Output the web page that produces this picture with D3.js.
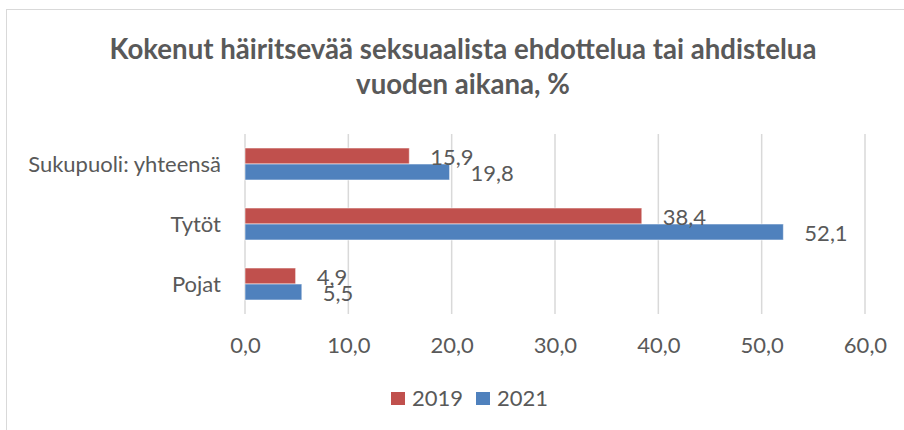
<!DOCTYPE html>
<html>
<head>
<meta charset="utf-8">
<script src="https://cdn.jsdelivr.net/npm/d3@7"></script>
<style>
  html, body { margin: 0; padding: 0; background: #fff; }
  svg { display: block; }
  text { font-family: Lato, "Open Sans", sans-serif; fill: #595959; }
</style>
</head>
<body>
<svg id="chart" width="904" height="430"></svg>
<script>
const categories = ["Sukupuoli: yhteensä", "Tytöt", "Pojat"];
const seriesNames = ["2019", "2021"];
const values2019 = [15.9, 38.4, 4.9];
const values2021 = [19.8, 52.1, 5.5];
const xTicks = [0, 10, 20, 30, 40, 50, 60];
const titleLines = ["Kokenut häiritsevää seksuaalista ehdottelua tai ahdistelua", "vuoden aikana, %"];
const colors = ["#C0504D", "#4F81BD"];

const seriesValues = [values2019, values2021];
const svg = d3.select("#chart");
const fs = 22;

// chart frame
svg.append("rect")
  .attr("x", 6.5).attr("y", 9.5)
  .attr("width", 1000).attr("height", 1000)
  .attr("fill", "none").attr("stroke", "#d9d9d9").attr("stroke-width", 1);

// title
const title = svg.append("text")
  .attr("text-anchor", "middle")
  .attr("font-weight", "bold")
  .attr("font-size", 27.6);
titleLines.forEach((t, i) => {
  title.append("tspan").attr("x", 463).attr("y", 59 + i * 35).text(t);
});

const x = d3.scaleLinear().domain([0, 60]).range([245, 865]);
const y0 = d3.scaleBand().domain(categories).range([134, 314])
  .paddingInner(0.4667).paddingOuter(0.2333);
const y1 = d3.scaleBand().domain(seriesNames).range([0, y0.bandwidth()]);

// gridlines
svg.append("g")
  .selectAll("line")
  .data(xTicks)
  .join("line")
  .attr("x1", d => x(d)).attr("x2", d => x(d))
  .attr("y1", 134).attr("y2", 314)
  .attr("stroke", "#d9d9d9").attr("stroke-width", 1.5);

// x axis labels
const xAxis = d3.axisBottom(x).tickValues(xTicks).tickSize(0).tickPadding(0)
  .tickFormat(d => d3.format(".1f")(d).replace(".", ","));
const gx = svg.append("g").attr("transform", "translate(0,337)").call(xAxis);
gx.select(".domain").remove();
gx.selectAll("text").attr("font-size", fs).attr("fill", "#595959")
  .attr("font-family", "Lato, 'Open Sans', sans-serif").attr("dy", "0.71em");

// y axis labels
const yAxis = d3.axisLeft(y0).tickSize(0).tickPadding(24);
const gy = svg.append("g").attr("transform", `translate(${x(0)},0)`).call(yAxis);
gy.select(".domain").remove();
gy.selectAll("text").attr("font-size", fs).attr("fill", "#595959")
  .attr("font-family", "Lato, 'Open Sans', sans-serif").attr("dy", "0.35em");

// bars
const rows = [];
categories.forEach((c, i) => {
  seriesNames.forEach((s, j) => {
    rows.push({cat: c, series: s, value: seriesValues[j][i], color: colors[j]});
  });
});

svg.append("g")
  .selectAll("rect")
  .data(rows)
  .join("rect")
  .attr("x", x(0))
  .attr("y", d => y0(d.cat) + y1(d.series))
  .attr("width", d => x(d.value) - x(0))
  .attr("height", y1.bandwidth())
  .attr("fill", d => d.color)
  .attr("stroke", "#ffffff").attr("stroke-opacity", 0.55).attr("stroke-width", 1);

// data labels
svg.append("g")
  .selectAll("text")
  .data(rows)
  .join("text")
  .attr("x", d => x(d.value) + 21)
  .attr("y", d => y0(d.cat) + y1(d.series) + y1.bandwidth() / 2 + 1)
  .attr("dy", "0.35em")
  .attr("font-size", fs)
  .text(d => d3.format(".1f")(d.value).replace(".", ","));

// legend
const legend = svg.append("g");
const legendX = [391, 476];
seriesNames.forEach((s, j) => {
  legend.append("rect")
    .attr("x", legendX[j]).attr("y", 392)
    .attr("width", 14).attr("height", 13)
    .attr("fill", colors[j]);
  legend.append("text")
    .attr("x", legendX[j] + 21).attr("y", 406)
    .attr("font-size", fs)
    .text(s);
});
</script>
</body>
</html>
